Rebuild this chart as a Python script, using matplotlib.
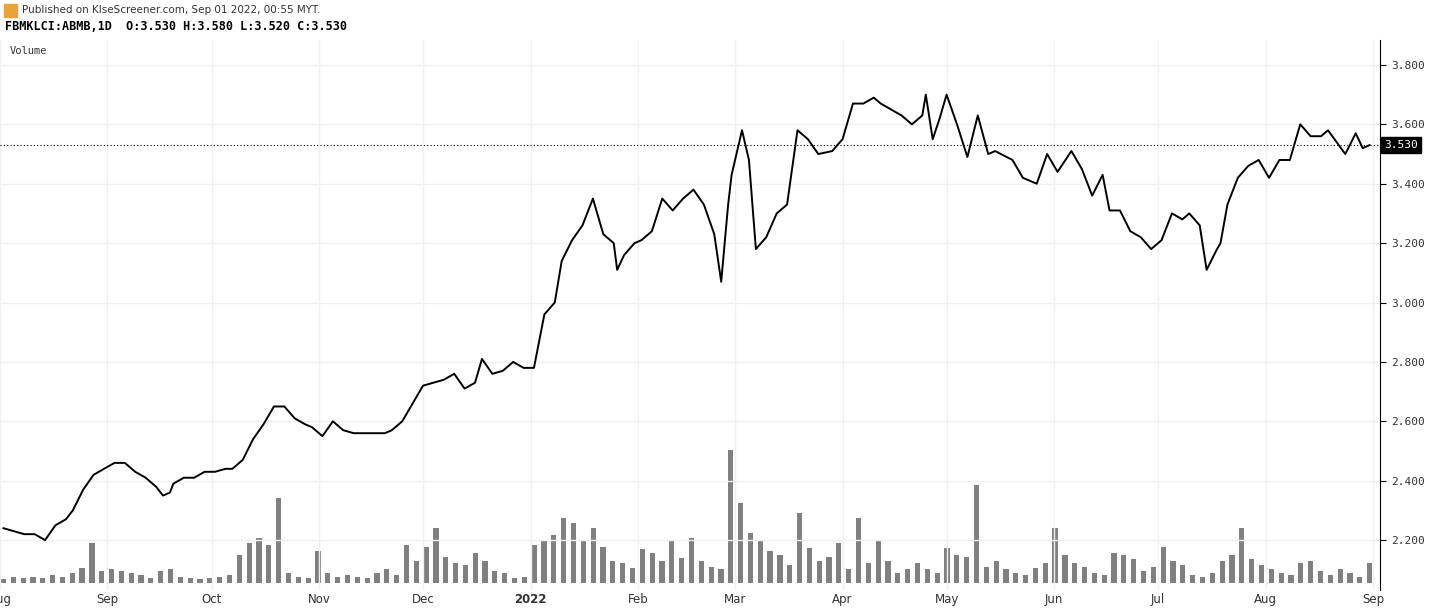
import matplotlib
matplotlib.use('Agg')
import matplotlib.pyplot as plt
import numpy as np

# days since 2021-08-01
days = [1, 4, 7, 10, 13, 16, 19, 21, 24, 27, 30, 33, 36, 39, 42, 45, 47, 49, 50, 53, 56, 59, 62, 65, 67,
        70, 73, 76, 79, 82, 85, 88, 90, 93, 96, 99, 102, 105, 108, 111, 113, 116, 119, 122, 125, 128,
        131, 134, 137, 139, 142, 145, 148, 151, 154, 157, 160, 162, 165, 168, 171, 174, 177, 178, 180,
        183, 185, 188, 191, 194, 197, 200, 203, 206, 208, 210, 211, 214, 216, 218, 221, 224, 227, 230,
        233, 236, 240, 243, 246, 249, 252, 254, 257, 260, 263, 266, 267, 269, 271, 273, 276, 279, 282,
        285, 287, 292, 295, 299, 302, 305, 309, 312, 315, 318, 320, 323, 326, 329, 332, 335, 338, 341,
        343, 346, 348, 351, 352, 354, 357, 360, 363, 366, 369, 372, 375, 378, 381, 383, 388, 391, 393, 395]
close = [2.24, 2.23, 2.22, 2.22, 2.20, 2.25, 2.27, 2.30, 2.37, 2.42, 2.44, 2.46, 2.46, 2.43, 2.41, 2.38,
         2.35, 2.36, 2.39, 2.41, 2.41, 2.43, 2.43, 2.44, 2.44, 2.47, 2.54, 2.59, 2.65, 2.65, 2.61, 2.59,
         2.58, 2.55, 2.60, 2.57, 2.56, 2.56, 2.56, 2.56, 2.57, 2.60, 2.66, 2.72, 2.73, 2.74, 2.76, 2.71,
         2.73, 2.81, 2.76, 2.77, 2.80, 2.78, 2.78, 2.96, 3.00, 3.14, 3.21, 3.26, 3.35, 3.23, 3.20, 3.11,
         3.16, 3.20, 3.21, 3.24, 3.35, 3.31, 3.35, 3.38, 3.33, 3.23, 3.07, 3.33, 3.43, 3.58, 3.48, 3.18,
         3.22, 3.30, 3.33, 3.58, 3.55, 3.50, 3.51, 3.55, 3.67, 3.67, 3.69, 3.67, 3.65, 3.63, 3.60, 3.63,
         3.70, 3.55, 3.62, 3.70, 3.60, 3.49, 3.63, 3.50, 3.51, 3.48, 3.42, 3.40, 3.50, 3.44, 3.51, 3.45,
         3.36, 3.43, 3.31, 3.31, 3.24, 3.22, 3.18, 3.21, 3.30, 3.28, 3.30, 3.26, 3.11, 3.18, 3.20, 3.33,
         3.42, 3.46, 3.48, 3.42, 3.48, 3.48, 3.60, 3.56, 3.56, 3.58, 3.50, 3.57, 3.52, 3.53]

volume = [4, 6, 5, 6, 5, 8, 6, 10, 15, 40,
          12, 14, 12, 10, 8, 5, 12, 14, 6, 5, 4,
          5, 6, 8, 28, 40, 45, 38, 85, 10, 6, 5,
          32, 10, 6, 8, 6, 5, 10, 14, 8, 38, 22,
          36, 55, 26, 20, 18, 30, 22, 12, 10, 5, 6,
          38, 42, 48, 65, 60, 42, 55, 36, 22, 20, 15,
          34, 30, 22, 42, 25, 45, 22, 16, 14, 133, 80,
          50, 42, 32, 28, 18, 70, 35, 22, 26, 40, 14,
          65, 20, 42, 22, 10, 14, 20, 14, 10, 35, 28,
          26, 98, 16, 22, 14, 10, 8, 15, 20,
          55, 28, 20, 16, 10, 8, 30, 28, 24, 12, 16,
          36, 22, 18, 8, 6, 10, 22, 28, 55, 24, 18,
          14, 10, 8, 20, 22, 12, 8, 14, 10, 6, 20]

month_days = [0, 31, 61, 92, 122, 153, 184, 212, 243, 273, 304, 334, 365, 396]
month_labels = ['Aug', 'Sep', 'Oct', 'Nov', 'Dec', '2022', 'Feb', 'Mar', 'Apr', 'May',
                'Jun', 'Jul', 'Aug', 'Sep']
price_ticks = [2.2, 2.4, 2.6, 2.8, 3.0, 3.2, 3.4, 3.6, 3.8]
last_price = 3.53

fig = plt.figure(figsize=(14.31, 6.14), dpi=100)
ax = fig.add_axes([0, 24 / 614, 1380 / 1431, 550 / 614])
ax.set_xlim(1.4, 398)
ax.set_ylim(2.032, 3.884)

for d in month_days:
    ax.axvline(d, color='#f0f0f0', lw=1, zorder=0)
for p in price_ticks:
    ax.axhline(p, color='#f0f0f0', lw=1, zorder=0)

vax = ax.twinx()
vax.set_ylim(-7, 543)
vol_days = np.linspace(1, 395, len(volume))
vax.bar(vol_days, volume, width=1.5, color='#808080', zorder=1)
vax.axis('off')

ax.set_zorder(vax.get_zorder() + 1)
ax.patch.set_visible(False)
ax.plot(days, close, color='black', lw=1.4, zorder=3)
ax.axhline(last_price, color='black', lw=0.8, ls=(0, (1, 2)), zorder=2)

ax.yaxis.tick_right()
ax.set_yticks(price_ticks)
ax.set_yticklabels(['%.3f' % p for p in price_ticks], fontsize=8, color='#333333',
                   family='DejaVu Sans Mono')
ax.tick_params(axis='y', length=4, color='black', pad=4)
ax.set_xticks(month_days)
ax.set_xticklabels(month_labels, fontsize=8.5, color='#333333')
ax.get_xticklabels()[5].set_fontweight('bold')
ax.tick_params(axis='x', length=0, pad=2)
for s in ['top', 'left', 'bottom']:
    ax.spines[s].set_visible(False)
ax.spines['right'].set_color('black')

ax.text(1.003, last_price, '%.3f' % last_price, transform=ax.get_yaxis_transform(),
        fontsize=8, color='white', family='DejaVu Sans Mono', va='center', ha='left',
        bbox=dict(boxstyle='square,pad=0.25', fc='black', ec='black'))

fig.text(22 / 1431, 1 - 10 / 614, 'Published on KlseScreener.com, Sep 01 2022, 00:55 MYT.',
         fontsize=7.5, color='#333333', va='center')
fig.text(5 / 1431, 1 - 26 / 614, 'FBMKLCI:ABMB,1D  O:3.530 H:3.580 L:3.520 C:3.530',
         fontsize=8.5, family='DejaVu Sans Mono', weight='bold', va='center')
fig.text(10 / 1431, 1 - 51 / 614, 'Volume', fontsize=7.5, family='DejaVu Sans Mono',
         color='#333333', va='center')
fig.patches.append(plt.Rectangle((4 / 1431, 1 - 17 / 614), 13 / 1431, 13 / 614,
                                 transform=fig.transFigure, color='#e8a33a', figure=fig))

fig.savefig('out.png', dpi=100)
